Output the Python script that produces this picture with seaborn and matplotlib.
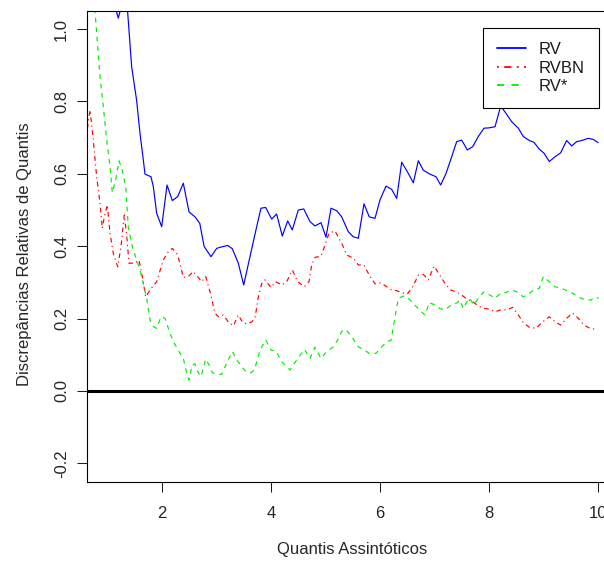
import numpy as np
import pandas as pd
import matplotlib
matplotlib.use("Agg")
import matplotlib.pyplot as plt
import seaborn as sns

# valores (quantis assintoticos x discrepancias relativas)
rv_x = [0.90, 1.12, 1.195, 1.245, 1.30, 1.36, 1.44, 1.53, 1.593, 1.654,
        1.685, 1.795, 1.838, 1.899, 1.991, 2.089, 2.186, 2.285, 2.388, 2.492,
        2.602, 2.69, 2.77, 2.896, 3.0, 3.061, 3.202, 3.287, 3.397, 3.496,
        3.611, 3.734, 3.813, 3.899, 4.009, 4.1, 4.204, 4.303, 4.387, 4.498,
        4.597, 4.712, 4.804, 4.914, 5.006, 5.098, 5.202, 5.294, 5.415, 5.507,
        5.599, 5.703, 5.8, 5.905, 5.997, 6.107, 6.211, 6.303, 6.395, 6.498,
        6.608, 6.7, 6.792, 6.914, 7.024, 7.11, 7.208, 7.312, 7.404, 7.496,
        7.599, 7.698, 7.8, 7.905, 8.002, 8.107, 8.211, 8.309, 8.413, 8.535,
        8.626, 8.736, 8.822, 8.92, 9.006, 9.103, 9.208, 9.312, 9.422, 9.514,
        9.606, 9.698, 9.819, 9.911, 10.0]
rv_y = [1.40, 1.07, 1.03, 1.06, 1.15, 1.06, 0.896, 0.804, 0.712, 0.638,
        0.599, 0.592, 0.564, 0.491, 0.454, 0.569, 0.526, 0.537, 0.574, 0.495,
        0.481, 0.463, 0.399, 0.371, 0.394, 0.397, 0.402, 0.393, 0.353, 0.293,
        0.371, 0.454, 0.505, 0.507, 0.475, 0.489, 0.428, 0.47, 0.445, 0.5,
        0.503, 0.468, 0.456, 0.465, 0.425, 0.505, 0.498, 0.481, 0.44, 0.426,
        0.422, 0.517, 0.481, 0.477, 0.528, 0.566, 0.557, 0.532, 0.632, 0.606,
        0.575, 0.636, 0.61, 0.599, 0.592, 0.569, 0.601, 0.647, 0.689, 0.693,
        0.666, 0.675, 0.703, 0.726, 0.727, 0.73, 0.787, 0.767, 0.744, 0.726,
        0.703, 0.692, 0.687, 0.668, 0.657, 0.634, 0.647, 0.658, 0.692, 0.677,
        0.689, 0.692, 0.698, 0.695, 0.686]

rvbn_x = [0.615, 0.676, 0.736, 0.798, 0.859, 0.901, 0.938, 0.993, 1.043, 1.103,
          1.184, 1.245, 1.305, 1.349, 1.391, 1.501, 1.575, 1.635, 1.698, 1.777,
          1.899, 2.021, 2.112, 2.186, 2.285, 2.388, 2.479, 2.571, 2.652, 2.725,
          2.799, 2.878, 2.969, 3.03, 3.122, 3.214, 3.306, 3.397, 3.47, 3.55,
          3.642, 3.703, 3.764, 3.826, 3.887, 3.997, 4.083, 4.193, 4.285, 4.39,
          4.486, 4.609, 4.694, 4.743, 4.804, 4.914, 4.988, 5.061, 5.171, 5.294,
          5.386, 5.507, 5.599, 5.703, 5.8, 5.905, 6.009, 6.12, 6.211, 6.303,
          6.395, 6.498, 6.597, 6.7, 6.792, 6.883, 6.988, 7.085, 7.19, 7.294,
          7.391, 7.496, 7.599, 7.698, 7.8, 7.905, 8.014, 8.107, 8.211, 8.321,
          8.431, 8.535, 8.626, 8.736, 8.859, 8.982, 9.103, 9.208, 9.312, 9.422,
          9.532, 9.635, 9.74, 9.85, 9.972]
rvbn_y = [0.712, 0.776, 0.693, 0.592, 0.519, 0.449, 0.481, 0.514, 0.436, 0.38,
          0.343, 0.399, 0.486, 0.43, 0.353, 0.353, 0.362, 0.316, 0.26, 0.279,
          0.302, 0.362, 0.385, 0.394, 0.376, 0.314, 0.316, 0.33, 0.316, 0.302,
          0.316, 0.274, 0.215, 0.205, 0.21, 0.191, 0.18, 0.21, 0.191, 0.185,
          0.191, 0.201, 0.26, 0.297, 0.307, 0.286, 0.302, 0.293, 0.302, 0.334,
          0.302, 0.288, 0.302, 0.348, 0.369, 0.373, 0.403, 0.436, 0.442, 0.408,
          0.376, 0.367, 0.348, 0.348, 0.32, 0.296, 0.299, 0.288, 0.279, 0.277,
          0.272, 0.268, 0.288, 0.32, 0.322, 0.307, 0.345, 0.322, 0.297, 0.279,
          0.274, 0.265, 0.253, 0.247, 0.235, 0.228, 0.226, 0.219, 0.224, 0.224,
          0.231, 0.21, 0.189, 0.176, 0.173, 0.191, 0.205, 0.191, 0.182, 0.201,
          0.215, 0.201, 0.182, 0.173, 0.17]

rvs_x = [0.63, 0.767, 0.798, 0.859, 0.92, 0.982, 1.043, 1.085, 1.147, 1.208,
         1.268, 1.331, 1.378, 1.452, 1.532, 1.593, 1.654, 1.716, 1.777, 1.838,
         1.899, 1.978, 2.052, 2.144, 2.222, 2.309, 2.388, 2.45, 2.492, 2.553,
         2.602, 2.652, 2.712, 2.799, 2.859, 2.92, 2.969, 3.092, 3.183, 3.287,
         3.367, 3.508, 3.611, 3.691, 3.795, 3.899, 3.997, 4.089, 4.193, 4.346,
         4.468, 4.609, 4.712, 4.804, 4.914, 5.018, 5.14, 5.22, 5.294, 5.373,
         5.478, 5.599, 5.691, 5.8, 5.923, 6.028, 6.12, 6.2, 6.272, 6.333,
         6.425, 6.517, 6.608, 6.718, 6.822, 6.901, 7.006, 7.097, 7.19, 7.281,
         7.373, 7.465, 7.525, 7.583, 7.644, 7.717, 7.8, 7.905, 8.014, 8.107,
         8.211, 8.309, 8.413, 8.505, 8.626, 8.736, 8.822, 8.92, 8.994, 9.103,
         9.208, 9.312, 9.434, 9.532, 9.635, 9.74, 9.863, 9.942, 10.01]
rvs_y = [1.30, 1.052, 0.988, 0.868, 0.785, 0.693, 0.62, 0.548, 0.583, 0.636,
         0.61, 0.564, 0.454, 0.399, 0.362, 0.334, 0.297, 0.256, 0.196, 0.178,
         0.173, 0.205, 0.201, 0.159, 0.132, 0.109, 0.09, 0.049, 0.03, 0.072,
         0.075, 0.053, 0.04, 0.088, 0.072, 0.051, 0.047, 0.046, 0.077, 0.109,
         0.086, 0.058, 0.049, 0.058, 0.113, 0.141, 0.113, 0.11, 0.081, 0.058,
         0.086, 0.115, 0.09, 0.121, 0.09, 0.109, 0.122, 0.141, 0.165, 0.17,
         0.15, 0.122, 0.115, 0.104, 0.104, 0.122, 0.136, 0.14, 0.205, 0.256,
         0.262, 0.256, 0.242, 0.224, 0.21, 0.244, 0.238, 0.228, 0.224, 0.235,
         0.24, 0.251, 0.228, 0.245, 0.256, 0.238, 0.256, 0.274, 0.265, 0.256,
         0.27, 0.272, 0.279, 0.274, 0.26, 0.27, 0.279, 0.284, 0.316, 0.302,
         0.288, 0.284, 0.277, 0.27, 0.26, 0.253, 0.251, 0.26, 0.256]

x_ticks = [2, 4, 6, 8, 10]
y_ticks = [-0.2, 0.0, 0.2, 0.4, 0.6, 0.8, 1.0]

sns.set_style("ticks")
plt.rcParams['font.family'] = ['Liberation Sans', 'DejaVu Sans']
plt.rcParams['text.color'] = '#1a1a1a'

fig = plt.figure(figsize=(6.04, 5.62), dpi=100)
ax = fig.add_axes([87.4/604, 79.6/562, 530.4/604, 471.7/562])

df_rv = pd.DataFrame({'x': rv_x, 'y': rv_y})
df_rvbn = pd.DataFrame({'x': rvbn_x, 'y': rvbn_y})
df_rvs = pd.DataFrame({'x': rvs_x, 'y': rvs_y})

sns.lineplot(data=df_rv, x='x', y='y', ax=ax, color='#0000FF', lw=0.85,
             estimator=None, sort=False, label='RV')
sns.lineplot(data=df_rvbn, x='x', y='y', ax=ax, color='#FF0000', lw=0.85,
             linestyle=(0, (1, 3, 4, 3)), estimator=None, sort=False, label='RVBN')
sns.lineplot(data=df_rvs, x='x', y='y', ax=ax, color='#00EE00', lw=0.85,
             linestyle=(0, (4, 4)), estimator=None, sort=False, label='RV*')

ax.axhline(0, color='black', lw=2.2)

ax.set_xlim(0.628, 10.36)
ax.set_ylim(-0.2525, 1.0506)
ax.set_xticks(x_ticks)
ax.set_yticks(y_ticks)
ax.set_yticklabels(['%.1f' % v for v in y_ticks], rotation=90, va='center')
ax.tick_params(axis='both', length=7.2, width=0.75, labelsize=12, color='#1a1a1a')
ax.tick_params(axis='x', pad=10)
ax.tick_params(axis='y', pad=6)
for s in ax.spines.values():
    s.set_linewidth(0.8)
    s.set_color('black')

ax.set_xlabel('Quantis Assintóticos', fontsize=12)
ax.xaxis.set_label_coords(0.5, -0.143)
ax.xaxis.label.set_va('center')
ax.set_ylabel('Discrepâncias Relativas de Quantis', fontsize=12)
ax.yaxis.set_label_coords(-0.118, 0.484)
ax.yaxis.label.set_va('center')

leg = ax.legend(loc='upper right', bbox_to_anchor=(0.9646, 0.9633), borderaxespad=0,
                fontsize=12, frameon=True, fancybox=False, edgecolor='black',
                framealpha=1, handlelength=1.75, handletextpad=0.75,
                labelspacing=0.21, borderpad=0.85)
leg.get_frame().set_linewidth(0.8)
for h in leg.get_lines():
    h.set_linewidth(1.3)

fig.savefig('out.png', dpi=100)
